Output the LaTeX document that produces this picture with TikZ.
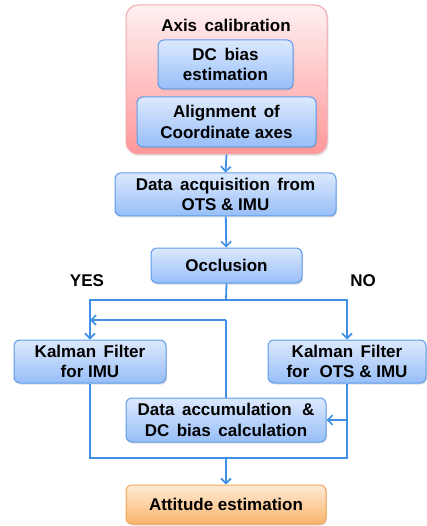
\documentclass[tikz,border=0pt]{standalone}
\usepackage{fontspec}
\setmainfont{Liberation Sans}
\usepackage{xcolor}
\usetikzlibrary{arrows.meta, positioning, shadows}

\definecolor{lineblue}{HTML}{3F8FE6}
\definecolor{boxedge}{HTML}{5E9CEA}
\definecolor{boxtop}{HTML}{DCE9FD}
\definecolor{boxbot}{HTML}{97BEF8}
\definecolor{pinkedge}{HTML}{F3A6AE}
\definecolor{pinktop}{HTML}{FFF0F1}
\definecolor{pinkbot}{HTML}{FF9799}
\definecolor{orangeedge}{HTML}{F2A453}
\definecolor{orangetop}{HTML}{FFEBD6}
\definecolor{orangebot}{HTML}{F9B46C}

\begin{document}
\begin{tikzpicture}[
    x=1pt, y=-1pt,
    txt/.style={font=\bfseries\fontsize{17}{20.5}\selectfont, align=center},
    block/.style={txt, rectangle, rounded corners=6pt, draw=boxedge, line width=1pt, top color=boxtop, bottom color=boxbot, inner sep=0pt, drop shadow={opacity=0.25, shadow xshift=1pt, shadow yshift=-1.5pt}},
    outer/.style={rectangle, rounded corners=12pt, draw=pinkedge, line width=1pt, top color=pinktop, bottom color=pinkbot, inner sep=0pt, drop shadow={opacity=0.2, shadow xshift=1.5pt, shadow yshift=-2pt}},
    final/.style={block, draw=orangeedge, top color=orangetop, bottom color=orangebot},
    arrow/.style={-{Straight Barb[length=5pt, width=10pt, line width=1.6pt]}, lineblue, line width=1.8pt},
    link/.style={lineblue, line width=1.8pt}
]
    \useasboundingbox (0,0) rectangle (427,526);

    % calibration group
    \node[outer, minimum width=201pt, minimum height=149pt] (calib) at (226.5,79.5) {};
    \node[txt] (calibtitle) at (226,25) {Axis\, calibration};
    \node[block, minimum width=135pt, minimum height=49pt] (dcbias) at (225.5,64.5) {DC\, bias\\estimation};
    \node[block, minimum width=179pt, minimum height=50pt] (align) at (226.5,122) {Alignment\, of\\Coordinate axes};

    % main flow
    \node[block, minimum width=221pt, minimum height=43pt] (acq) at (225.5,194.5) {Data\, acquisition\, from\\OTS \& IMU};
    \node[block, minimum width=151pt, minimum height=35pt] (occl) at (226.5,265.5) {Occlusion};
    \node[txt] (yes) at (87,281) {YES};
    \node[txt] (no) at (363,281) {NO};

    \node[block, minimum width=152pt, minimum height=43pt] (kfimu) at (90,361.5) {Kalman\, Filter\\for IMU};
    \node[block, minimum width=158pt, minimum height=43pt] (kfots) at (347,361.5) {Kalman\, Filter\\for\,\, OTS \& IMU};
    \node[block, minimum width=200pt, minimum height=44pt] (accum) at (226,420) {Data\, accumulation\,\, \&\\DC\, bias\, calculation};
    \node[final, minimum width=200pt, minimum height=39pt] (att) at (226,504.5) {Attitude estimation};

    \coordinate (split) at (226,300);
    \coordinate (loop) at (226,320);
    \coordinate (merge) at (226,458);

    \draw[arrow] (calib.south) -- (acq.north);
    \draw[arrow] (acq) -- (occl);
    \draw[link] (occl.south) -- (split);
    \draw[arrow] (split) -| (kfimu.north);
    \draw[arrow] (split) -| (kfots.north);
    \draw[link] (accum.north) -- (loop);
    \draw[arrow] (loop) -- (loop -| kfimu.north);
    \draw[link] (kfimu.south) |- (merge);
    \draw[link] (kfots.south) |- (merge);
    \draw[arrow] (kfots.south |- accum.east) -- (accum.east);
    \draw[arrow] (merge) -- (att.north);
\end{tikzpicture}
\end{document}
